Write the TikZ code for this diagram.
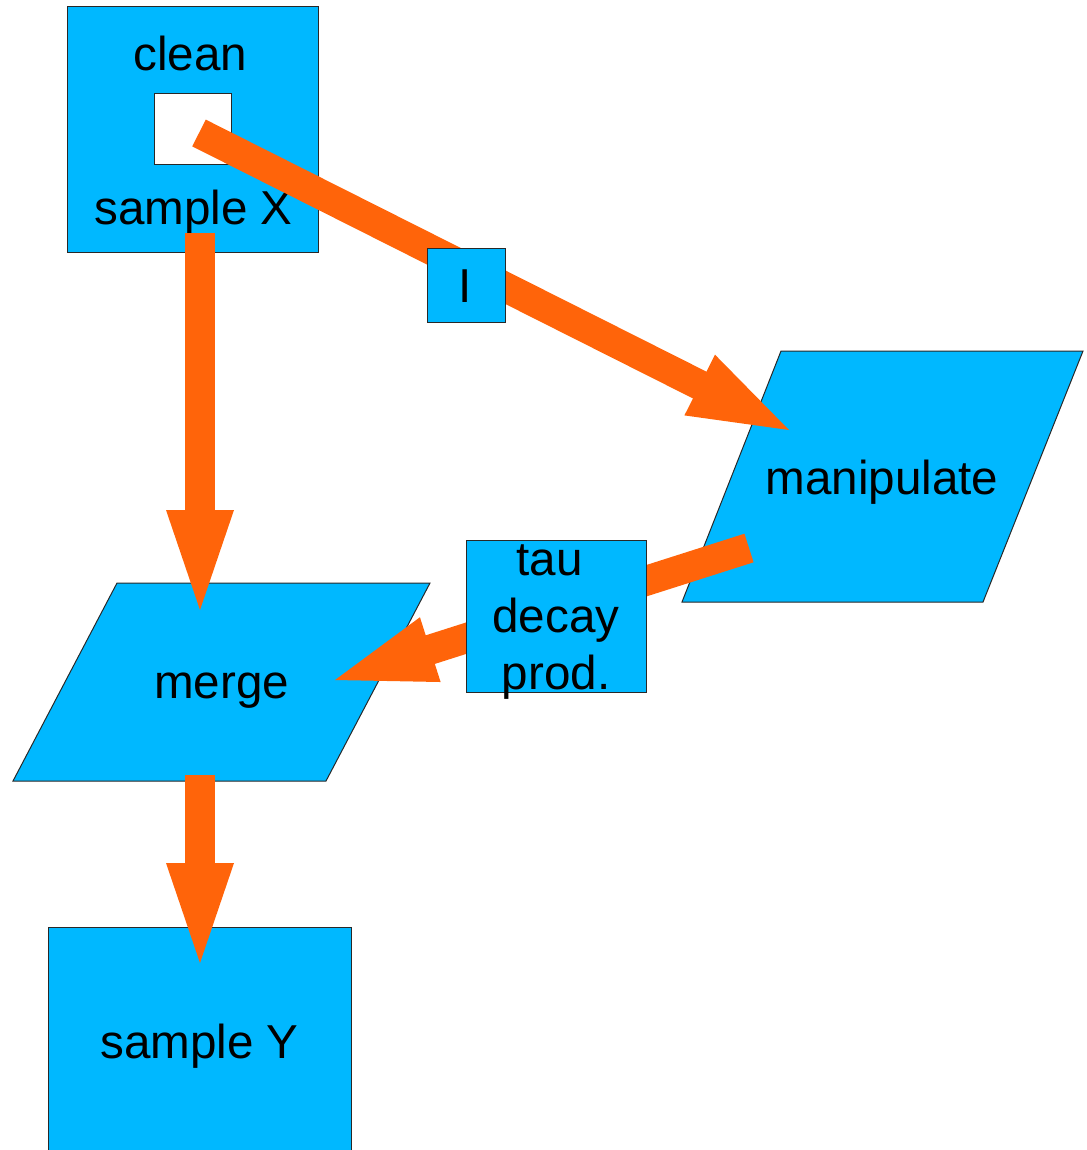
\documentclass[tikz,border=0pt]{standalone}
\usepackage{fontspec}
\setmainfont{Liberation Sans}
\usetikzlibrary{calc}
\definecolor{boxblue}{RGB}{0,184,255}
\definecolor{flow}{RGB}{255,100,10}
\definecolor{edge}{RGB}{40,40,40}
% thick flow arrow from a start coordinate to a tip coordinate
\newcommand{\fatarrow}[2]{%
  \draw[shaft] (#1) -- ($(#2)!99pt!(#1)$);
  \fill[flow] (#2) -- ($(#2)!100pt!(#1)!34pt!90:(#2)$)
              -- ($(#2)!100pt!(#1)!34pt!-90:(#2)$) -- cycle;}
\begin{document}
\begin{tikzpicture}[x=1pt,y=-1pt,
  box/.style={draw=edge, line width=1pt, fill=boxblue, inner sep=0pt, outer sep=0pt},
  hole/.style={draw=edge, line width=1pt, fill=white, inner sep=0pt, outer sep=0pt},
  txt/.style={inner sep=0pt, anchor=base, font=\fontsize{47.6}{57}\selectfont},
  shaft/.style={draw=flow, line width=30pt, line cap=butt}]
\useasboundingbox (0,0) rectangle (1086,1150);

% source block with its inner port
\node[box, minimum width=251pt, minimum height=245pt] (sx) at (192.5,129.5) {};
\node[hole, minimum width=77pt, minimum height=71pt] (port) at (192.5,129.5) {};
\node[txt] (clean) at (190.5,71) {clean};
\node[txt] (sxlabel) at (193.5,225) {sample X};

% processing steps (parallelograms)
\path[box] (781,351) -- (1083,351) -- (983,602) -- (682,602) -- cycle;
\node[txt] (manip) at (882,494) {manipulate};
\path[box] (117,583) -- (430,583) -- (326,781) -- (13,781) -- cycle;
\node[txt] (merge) at (221.5,698) {merge};

% output block
\node[box, minimum width=303pt, minimum height=240pt] (sy) at (199.5,1047) {};
\node[txt] (sylabel) at (199.5,1058) {sample Y};

% connector end points
\coordinate (a1s) at (199,133);
\coordinate (a1t) at (789,430);
\coordinate (a2s) at (749,548);
\coordinate (a2t) at (335,680);
\coordinate (a3s) at (200,233);
\coordinate (a3t) at (200,610);
\coordinate (a4s) at (200,775);
\coordinate (a4t) at (200,963);

\fatarrow{a1s}{a1t}
\fatarrow{a2s}{a2t}
\fatarrow{a3s}{a3t}
\fatarrow{a4s}{a4t}

% labels sitting on the connectors
\node[box, minimum width=78pt, minimum height=73pt] (ibox) at (466,285.5) {};
\node[txt] (ilabel) at (465.5,302) {I};
\node[box, minimum width=180pt, minimum height=152pt] (tau) at (556,616) {};
\node[txt] (tau1) at (549.5,575) {tau};
\node[txt] (tau2) at (556,632) {decay};
\node[txt] (tau3) at (556,689) {prod.};
\end{tikzpicture}
\end{document}
